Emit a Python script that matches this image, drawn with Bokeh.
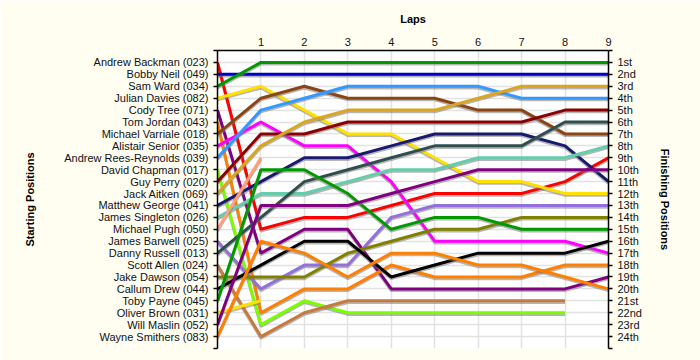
from bokeh.plotting import figure
from bokeh.models import Range1d, LinearAxis, FixedTicker, Grid
from bokeh.embed import file_html
from bokeh.resources import INLINE

laps = [0, 1, 2, 3, 4, 5, 6, 7, 8, 9]

drivers = [
    "Andrew Backman (023)", "Bobby Neil (049)", "Sam Ward (034)", "Julian Davies (082)",
    "Cody Tree (071)", "Tom Jordan (043)", "Michael Varriale (018)", "Alistair Senior (035)",
    "Andrew Rees-Reynolds (039)", "David Chapman (017)", "Guy Perry (020)", "Jack Aitken (069)",
    "Matthew George (041)", "James Singleton (026)", "Michael Pugh (050)", "James Barwell (025)",
    "Danny Russell (013)", "Scott Allen (024)", "Jake Dawson (054)", "Callum Drew (044)",
    "Toby Payne (045)", "Oliver Brown (031)", "Will Maslin (052)", "Wayne Smithers (083)",
]

colors = [
    "#FF0000", "#0000CC", "#009900", "#FFE000", "#800080", "#FF8000", "#8B4513", "#FF00FF",
    "#3399FF", "#7CFC00", "#8B0000", "#DAA520", "#191970", "#66CDAA", "#FFA07A", "#9370DB",
    "#2F4F4F", "#C87A3E", "#808000", "#000000", "#009900", "#FFE000", "#800080", "#FF8000",
]

finish_labels = [
    "1st", "2nd", "3rd", "4th", "5th", "6th", "7th", "8th", "9th", "10th", "11th", "12th",
    "13th", "14th", "15th", "16th", "17th", "18th", "19th", "20th", "21st", "22nd", "23rd", "24th",
]

# position of each driver at laps 0..9 (None = retired)
backman = [1, 15, 14, 14, 13, 12, 12, 12, 11, 9]
neil = [2, 2, 2, 2, 2, 2, 2, 2, 2, 2]
ward = [3, 1, 1, 1, 1, 1, 1, 1, 1, 1]
davies = [4, 3, 5, 7, 7, 9, 11, 11, 12, 12]
tree = [5, 17, 15, 15, 20, 20, 20, 20, 20, 19]
jordan = [6, 22, 20, 20, 18, 19, 19, 19, 18, 18]
varriale = [7, 4, 3, 4, 4, 4, 5, 5, 7, 7]
senior = [8, 6, 8, 8, 11, 16, 16, 16, 16, 17]
rees_reynolds = [9, 5, 4, 3, 3, 3, 3, 4, 4, 4]
chapman = [10, 23, 21, 22, 22, 22, 22, 22, 22, None]
perry = [11, 7, 7, 6, 6, 6, 6, 6, 5, 5]
aitken = [12, 8, 6, 5, 5, 5, 4, 3, 3, 3]
george = [13, 11, 9, 9, 8, 7, 7, 7, 8, 11]
singleton = [14, 12, 12, 11, 10, 10, 9, 9, 9, 8]
pugh = [15, 9, None, None, None, None, None, None, None, None]
barwell = [16, 20, 18, 18, 14, 13, 13, 13, 13, 13]
russell = [17, 14, 11, 10, 9, 8, 8, 8, 6, 6]
allen = [18, 24, 22, 21, 21, 21, 21, 21, 21, None]
dawson = [19, 19, 19, 17, 16, 15, 15, 14, 14, 14]
drew = [20, 18, 16, 16, 19, 18, 17, 17, 17, 16]
payne = [21, 10, 10, 12, 15, 14, 14, 15, 15, 15]
brown = [22, 21, None, None, None, None, None, None, None, None]
maslin = [23, 13, 13, 13, 12, 11, 10, 10, 10, 10]
smithers = [24, 16, 17, 19, 17, 17, 18, 18, 19, 20]

series = [backman, neil, ward, davies, tree, jordan, varriale, senior, rees_reynolds,
          chapman, perry, aitken, george, singleton, pugh, barwell, russell, allen,
          dawson, drew, payne, brown, maslin, smithers]

FONT = "Liberation Sans"
n_pos = len(drivers)

p = figure(width=700, height=360, output_backend="svg", toolbar_location=None,
           x_range=Range1d(0, 9), y_range=Range1d(n_pos + 1, 0),
           x_axis_location=None, y_axis_location=None,
           min_border_left=217, min_border_right=92, min_border_top=50, min_border_bottom=12,
           background_fill_color="#FFFFFF", border_fill_color="#FFFEF0")
p.outline_line_color = None

pos_ticks = list(range(0, n_pos + 2))
p.add_layout(Grid(dimension=0, ticker=FixedTicker(ticks=laps), grid_line_color="#E2E2E2", grid_line_width=1.5))
p.add_layout(Grid(dimension=1, ticker=FixedTicker(ticks=pos_ticks), grid_line_color="#E2E2E2", grid_line_width=1.5))

left_over = {i: "" for i in pos_ticks}
right_over = {i: "" for i in pos_ticks}
for i, name in enumerate(drivers):
    left_over[i + 1] = name
    right_over[i + 1] = finish_labels[i]


def style_axis(ax, label, standoff):
    ax.axis_label = label
    ax.axis_label_text_font = FONT
    ax.axis_label_text_font_style = "bold"
    ax.axis_label_text_font_size = "11px"
    ax.axis_label_text_color = "#000000"
    ax.axis_label_standoff = standoff
    ax.major_label_text_font = FONT
    ax.major_label_text_font_size = "11px"
    ax.major_label_text_color = "#101020"
    ax.major_label_standoff = 5
    ax.axis_line_color = "#000000"
    ax.axis_line_width = 1.5
    ax.major_tick_line_color = "#000000"
    ax.major_tick_line_width = 1.5
    ax.major_tick_in = 0
    ax.minor_tick_in = 0
    ax.minor_tick_out = 0


left = LinearAxis(ticker=FixedTicker(ticks=pos_ticks), major_label_overrides=left_over)
style_axis(left, "Starting Positions", 25)
left.major_tick_out = 4
p.add_layout(left, "left")

right = LinearAxis(ticker=FixedTicker(ticks=pos_ticks), major_label_overrides=right_over)
style_axis(right, "Finishing Positions", 14)
right.major_tick_out = 4
p.add_layout(right, "right")

top = LinearAxis(ticker=FixedTicker(ticks=laps[1:]))
style_axis(top, "Laps", 10)
top.major_tick_out = 0
p.add_layout(top, "above")

for pos, col in zip(series, colors):
    xs = [lap for lap, v in zip(laps, pos) if v is not None]
    ys = [v for v in pos if v is not None]
    p.line(xs, [v + 0.14 for v in ys], line_color="#7A7A7A", line_alpha=0.55, line_width=3)
    p.line(xs, ys, line_color=col, line_width=3)

open("out.html", "w").write(file_html(p, INLINE))
